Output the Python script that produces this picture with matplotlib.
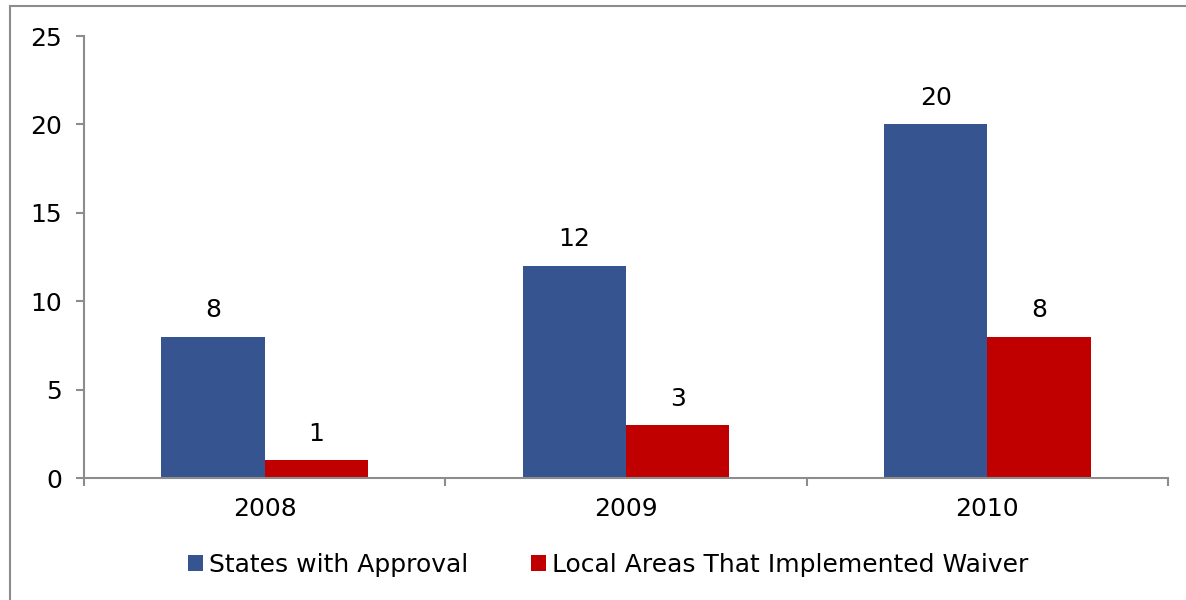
import matplotlib
matplotlib.use("Agg")
import matplotlib.pyplot as plt
from matplotlib.patches import Rectangle
import numpy as np

years = ["2008", "2009", "2010"]
states_with_approval = [8, 12, 20]
local_areas_waiver = [1, 3, 8]
series_names = ["States with Approval", "Local Areas That Implemented Waiver"]
y_ticks = [0, 5, 10, 15, 20, 25]

blue = "#36548F"
red = "#C00000"
axis_gray = "#8C8C8C"
fs = 18

plt.rcParams["font.family"] = ["DejaVu Sans"]

fig = plt.figure(figsize=(11.86, 6.0), dpi=100)
ax = fig.add_axes([84 / 1186, 1 - 478 / 600, (1168 - 84) / 1186, (478 - 36) / 600])

# outer frame of the chart area
fig.patches.append(Rectangle((10 / 1186, -0.01), 1.1, 1 - 6 / 600 + 0.01,
                             transform=fig.transFigure, fill=False,
                             edgecolor="#8C8C8C", linewidth=1.5))

x = np.arange(len(years))
width = 1 / 3.5
b1 = ax.bar(x - width / 2, states_with_approval, width, color=blue, label=series_names[0])
b2 = ax.bar(x + width / 2, local_areas_waiver, width, color=red, label=series_names[1])

for bars, vals in ((b1, states_with_approval), (b2, local_areas_waiver)):
    for rect, v in zip(bars, vals):
        ax.annotate(str(v), (rect.get_x() + rect.get_width() / 2, v),
                    xytext=(0, 19), textcoords="offset points",
                    ha="center", va="center", fontsize=fs, color="black")

ax.set_xlim(-0.5, len(years) - 0.5)
ax.set_ylim(0, 25)
ax.set_yticks(y_ticks)
ax.set_yticklabels([str(t) for t in y_ticks])
ax.set_xticks(x)
ax.set_xticklabels(years)
ax.set_xticks(np.arange(len(years) + 1) - 0.5, minor=True)

for s in ("top", "right"):
    ax.spines[s].set_visible(False)
for s in ("left", "bottom"):
    ax.spines[s].set_color(axis_gray)
    ax.spines[s].set_linewidth(1.5)

ax.tick_params(axis="y", direction="out", length=6, width=1.5, color=axis_gray,
               labelsize=fs, pad=10)
ax.tick_params(axis="x", which="major", length=0, labelsize=fs, pad=14)
ax.tick_params(axis="x", which="minor", direction="out", length=6, width=1.5, color=axis_gray)

leg = fig.legend(handles=[b1, b2], labels=series_names, loc="center",
                 bbox_to_anchor=(608 / 1186, 1 - 565 / 600), ncol=2, frameon=False,
                 fontsize=fs, handlelength=0.6, handleheight=0.6, handletextpad=0.25,
                 columnspacing=2.5)

fig.savefig("out.png", dpi=100)
